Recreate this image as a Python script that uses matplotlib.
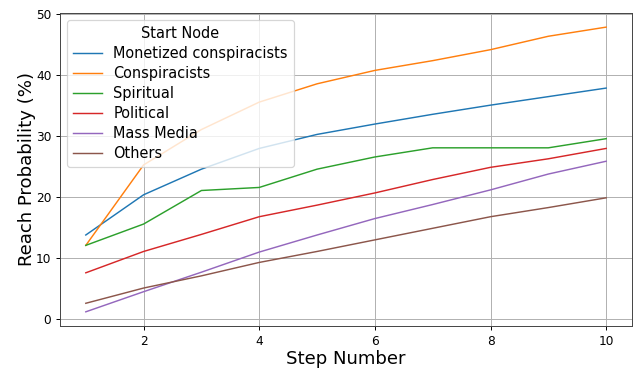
import numpy as np
import matplotlib.pyplot as plt

steps = np.arange(1, 11)
monetized = [13.7, 20.3, 24.5, 27.9, 30.2, 31.9, 33.5, 35.0, 36.4, 37.8]
conspiracists = [12.0, 25.2, 31.0, 35.5, 38.5, 40.7, 42.3, 44.1, 46.3, 47.8]
spiritual = [12.0, 15.5, 21.0, 21.5, 24.5, 26.5, 28.0, 28.0, 28.0, 29.5]
political = [7.5, 11.0, 13.8, 16.7, 18.6, 20.6, 22.8, 24.8, 26.2, 27.9]
mass_media = [1.1, 4.4, 7.6, 10.9, 13.7, 16.4, 18.7, 21.1, 23.7, 25.8]
others = [2.5, 5.0, 7.0, 9.2, 11.0, 12.9, 14.8, 16.7, 18.2, 19.8]

series = [("Monetized conspiracists", monetized), ("Conspiracists", conspiracists),
          ("Spiritual", spiritual), ("Political", political),
          ("Mass Media", mass_media), ("Others", others)]

dpi = 87
fig, ax = plt.subplots(figsize=(636 / dpi, 368 / dpi), dpi=dpi)
for name, vals in series:
    ax.plot(steps, vals, label=name, linewidth=1.2)

ax.set_xlabel("Step Number", fontsize=15, labelpad=2)
ax.set_ylabel("Reach Probability (%)", fontsize=15, labelpad=0)
ax.tick_params(labelsize=10)
ax.grid(True, color="#b0b0b0", linewidth=0.8)
ax.set_axisbelow(True)
for s in ax.spines.values():
    s.set_color("#444444")
ax.legend(title="Start Node", fontsize=12, title_fontsize=12, loc="upper left",
          labelspacing=0.35)
fig.subplots_adjust(left=0.094, right=0.994, top=0.965, bottom=0.114)
fig.savefig("out.png", dpi=dpi)
